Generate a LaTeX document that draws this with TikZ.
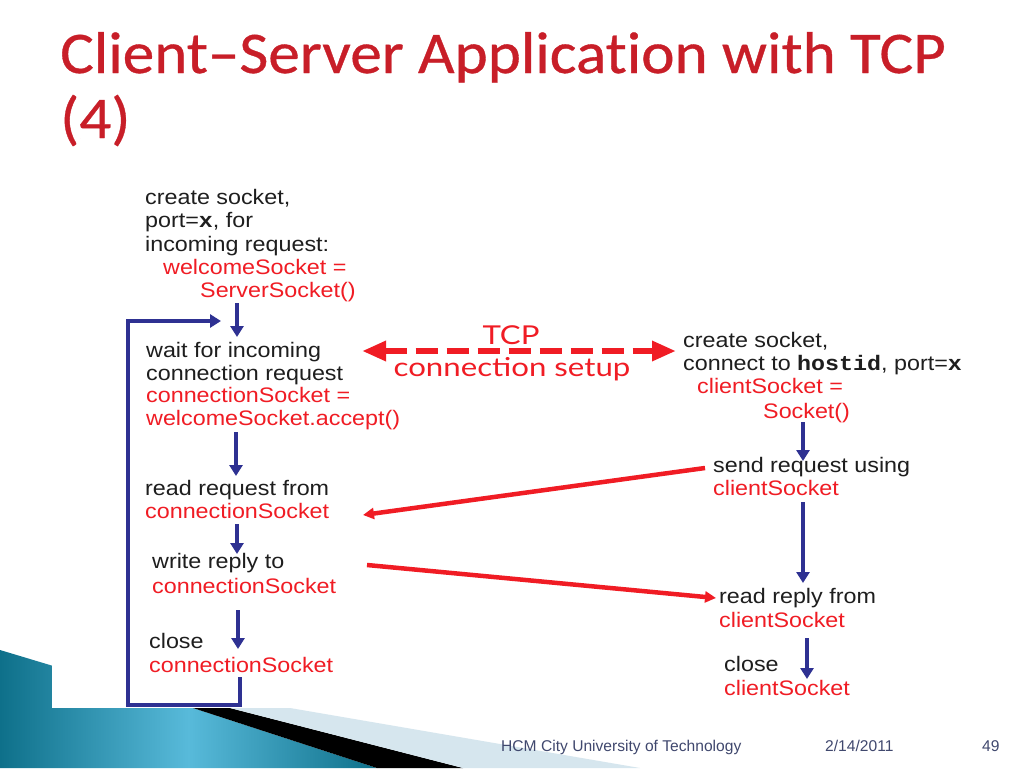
\documentclass[tikz,border=0pt]{standalone}
\usepackage{fontspec}
\usetikzlibrary{arrows.meta}
\newfontfamily\titlefont[FakeStretch=1.07,FakeBold=0.6,Ligatures=NoCommon]{Carlito}
\newfontfamily\diagfont[FakeStretch=1.11]{Liberation Sans}
\newfontfamily\diagmono[FakeStretch=1.11]{Liberation Mono}
\newfontfamily\tcpfont[FakeStretch=1.2]{Lato}
\newfontfamily\footfont{Liberation Sans}
\definecolor{titlered}{RGB}{200,30,40}
\definecolor{codered}{RGB}{240,28,36}
\definecolor{txtblack}{RGB}{30,30,30}
\definecolor{arrowblue}{RGB}{46,49,146}
\definecolor{footblue}{RGB}{64,72,110}
\definecolor{tealdark}{RGB}{14,112,138}
\definecolor{teallight}{RGB}{88,186,218}
\definecolor{lightband}{RGB}{214,230,238}
\newcommand{\mono}[1]{{\diagmono\bfseries #1}}
\begin{document}
\begin{tikzpicture}[x=1pt,y=-1pt,
  titletxt/.style={anchor=base west, inner sep=0pt, font=\titlefont\fontsize{59}{64}\selectfont, text=titlered},
  txt/.style={anchor=base west, inner sep=0pt, font=\diagfont\fontsize{21}{23}\selectfont, text=txtblack},
  rtxt/.style={txt, text=codered},
  tcptxt/.style={anchor=base, inner sep=0pt, font=\tcpfont\fontsize{26}{28}\selectfont, text=codered},
  foot/.style={anchor=base west, inner sep=0pt, font=\footfont\fontsize{15.6}{17}\selectfont, text=footblue},
  barrow/.style={draw=arrowblue, line width=4pt, -{Triangle[length=11pt,width=13pt]}},
  loopline/.style={draw=arrowblue, line width=4pt, line join=miter, -{Triangle[length=11pt,width=13pt]}},
  rarrow/.style={draw=codered, line width=4.5pt, -{Triangle[length=11pt,width=11pt]}},
  tcparrow/.style={draw=codered, line width=6pt, dash pattern=on 22pt off 9pt,
     {Triangle[length=24pt,width=19pt]}-{Triangle[length=24pt,width=19pt]}}
]
\useasboundingbox (0,0) rectangle (1024,768);
\fill[white] (0,0) rectangle (1024,768);

% bottom-left decoration
\shade[left color=tealdark, right color=tealdark, middle color=teallight]
  (0,650) -- (193,708) -- (377,768) -- (0,768) -- cycle;
\fill[white] (52,0) rectangle (1024,708);
\fill[black] (193,708) -- (230,708) -- (463,768) -- (377,768) -- cycle;
\fill[lightband] (230,708) -- (290,708) -- (640,768) -- (463,768) -- cycle;

% title
\node[titletxt] (t1) at (60,73) {Client–Server Application with TCP};
\node[titletxt] (t2) at (60,138) {(4)};

% server side
\node[txt]  (s1) at (145,204) {create socket,};
\node[txt]  (s2) at (145,227) {port=\mono{x}, for};
\node[txt]  (s3) at (145,251) {incoming request:};
\node[rtxt] (s4) at (163,274) {welcomeSocket =};
\node[rtxt] (s5) at (200,297) {ServerSocket()};

\node[txt]  (w1) at (146,357) {wait for incoming};
\node[txt]  (w2) at (146,380) {connection request};
\node[rtxt] (w3) at (146,402) {connectionSocket =};
\node[rtxt] (w4) at (146,425) {welcomeSocket.accept()};

\node[txt]  (r1) at (145,495) {read request from};
\node[rtxt] (r2) at (145,518) {connectionSocket};

\node[txt]  (y1) at (152,568) {write reply to};
\node[rtxt] (y2) at (152,593) {connectionSocket};

\node[txt]  (c1) at (149,648) {close};
\node[rtxt] (c2) at (149,672) {connectionSocket};

% client side
\node[txt]  (k1) at (683,347) {create socket,};
\node[txt]  (k2) at (683,370) {connect to \mono{hostid}, port=\mono{x}};
\node[rtxt] (k3) at (697,393) {clientSocket =};
\node[rtxt] (k4) at (763,418) {Socket()};

\node[txt]  (q1) at (713,472) {send request using};
\node[rtxt] (q2) at (713,495) {clientSocket};

\node[txt]  (p1) at (719,603) {read reply from};
\node[rtxt] (p2) at (719,627) {clientSocket};

\node[txt]  (e1) at (724,671) {close};
\node[rtxt] (e2) at (724,695) {clientSocket};

% TCP label
\node[tcptxt] (tcp1) at (511,344) {TCP};
\node[tcptxt] (tcp2) at (512,376) {connection setup};

% arrow end points
\coordinate (a1s) at (237,303); \coordinate (a1e) at (237,337);
\coordinate (a2s) at (236,432); \coordinate (a2e) at (236,476);
\coordinate (a3s) at (237,524); \coordinate (a3e) at (237,554);
\coordinate (a4s) at (238,610); \coordinate (a4e) at (238,649);
\coordinate (b1s) at (803,422); \coordinate (b1e) at (803,461);
\coordinate (b2s) at (803,502); \coordinate (b2e) at (803,583);
\coordinate (b3s) at (807,638); \coordinate (b3e) at (807,679);
\coordinate (ls) at (240,677); \coordinate (le) at (221,321);
\coordinate (tcpl) at (362,351); \coordinate (tcpr) at (676,351);
\coordinate (m1s) at (705,468); \coordinate (m1e) at (363,515);
\coordinate (m2s) at (367,565); \coordinate (m2e) at (716,598);

% blue flow arrows
\draw[barrow] (a1s) -- (a1e);
\draw[barrow] (a2s) -- (a2e);
\draw[barrow] (a3s) -- (a3e);
\draw[barrow] (a4s) -- (a4e);
\draw[barrow] (b1s) -- (b1e);
\draw[barrow] (b2s) -- (b2e);
\draw[barrow] (b3s) -- (b3e);
\draw[loopline] (ls) -- (240,705) -- (128,705) -- (128,321) -- (le);

% red messages
\draw[tcparrow] (tcpl) -- (tcpr);
\draw[rarrow] (m1s) -- (m1e);
\draw[rarrow] (m2s) -- (m2e);

% footer
\node[foot] (f1) at (501,751) {HCM City University of Technology};
\node[foot] (f2) at (825,751) {2/14/2011};
\node[foot] (f3) at (982,751) {49};
\end{tikzpicture}
\end{document}
